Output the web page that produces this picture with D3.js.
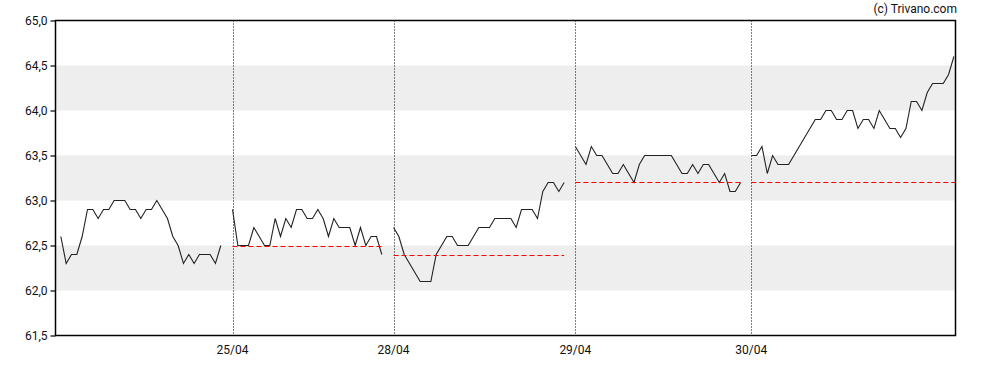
<!DOCTYPE html>
<html>
<head>
<meta charset="utf-8">
<script src="https://cdn.jsdelivr.net/npm/d3@7"></script>
<style>
  body { margin: 0; background: #fff; }
  svg text { font-family: Roboto, "Liberation Sans", sans-serif; font-size: 12px; fill: #111; }
</style>
</head>
<body>
<svg width="988" height="370"></svg>
<script>
// intraday prices, one array per trading day
var day1 = [62.6, 62.3, 62.4, 62.4, 62.6, 62.9, 62.9, 62.8, 62.9, 62.9, 63.0, 63.0, 63.0, 62.9, 62.9, 62.8,
  62.9, 62.9, 63.0, 62.9, 62.8, 62.6, 62.5, 62.3, 62.4, 62.3, 62.4, 62.4, 62.4, 62.3, 62.5];
var day2 = [62.9, 62.5, 62.5, 62.5, 62.7, 62.6, 62.5, 62.5, 62.8, 62.6, 62.8, 62.7, 62.9, 62.9, 62.8, 62.8,
  62.9, 62.8, 62.6, 62.8, 62.7, 62.7, 62.7, 62.5, 62.7, 62.5, 62.6, 62.6, 62.4];
var day3 = [62.7, 62.6, 62.4, 62.3, 62.2, 62.1, 62.1, 62.1, 62.4, 62.5, 62.6, 62.6, 62.5, 62.5, 62.5, 62.6,
  62.7, 62.7, 62.7, 62.8, 62.8, 62.8, 62.8, 62.7, 62.9, 62.9, 62.9, 62.8, 63.1, 63.2, 63.2, 63.1, 63.2];
var day4 = [63.6, 63.5, 63.4, 63.6, 63.5, 63.5, 63.4, 63.3, 63.3, 63.4, 63.3, 63.2, 63.4, 63.5, 63.5, 63.5,
  63.5, 63.5, 63.5, 63.4, 63.3, 63.3, 63.4, 63.3, 63.4, 63.4, 63.3, 63.2, 63.3, 63.1, 63.1, 63.2];
var day5 = [63.5, 63.5, 63.6, 63.3, 63.5, 63.4, 63.4, 63.4, 63.5, 63.6, 63.7, 63.8, 63.9, 63.9, 64.0, 64.0,
  63.9, 63.9, 64.0, 64.0, 63.8, 63.9, 63.9, 63.8, 64.0, 63.9, 63.8, 63.8, 63.7, 63.8, 64.1, 64.1,
  64.0, 64.2, 64.3, 64.3, 64.3, 64.4, 64.6];

var days = [day1, day2, day3, day4, day5];
// slot where each day starts on the x axis
var dayStart = [0, 32.2, 62.4, 96.5, 129.5];
var dayLabels = ["", "25/04", "28/04", "29/04", "30/04"];
// previous close, drawn as red dashed reference
var prevClose = [null, 62.5, 62.4, 63.2, 63.2];
var yTicks = [61.5, 62.0, 62.5, 63.0, 63.5, 64.0, 64.5, 65.0];
var bands = [[62.0, 62.5], [63.0, 63.5], [64.0, 64.5]];

var svg = d3.select("svg");
var plotLeft = 55.5, plotRight = 955.5, plotTop = 20.5, plotBottom = 335.5;

var x = d3.scaleLinear().domain([-1, 167.8]).range([plotLeft, plotRight]);
var y = d3.scaleLinear().domain([61.5, 65.0]).range([plotBottom, plotTop]);

// grey bands
svg.append("g")
  .selectAll("rect")
  .data(bands)
  .enter()
  .append("rect")
  .attr("x", plotLeft)
  .attr("width", plotRight - plotLeft)
  .attr("y", function (d) { return y(d[1]); })
  .attr("height", function (d) { return y(d[0]) - y(d[1]); })
  .attr("fill", "#eeeeee");

// dotted day separators
svg.append("g")
  .selectAll("line")
  .data(dayStart.slice(1))
  .enter()
  .append("line")
  .attr("x1", function (d) { return Math.round(x(d)) + 0.5; })
  .attr("x2", function (d) { return Math.round(x(d)) + 0.5; })
  .attr("y1", plotTop)
  .attr("y2", plotBottom)
  .attr("stroke", "#000")
  .attr("stroke-dasharray", "1,2");

var line = d3.line()
  .x(function (d) { return x(d.i); })
  .y(function (d) { return y(d.v); });

days.forEach(function (vals, k) {
  var pts = vals.map(function (v, j) { return { i: dayStart[k] + j, v: v }; });
  svg.append("path")
    .datum(pts)
    .attr("d", line)
    .attr("fill", "none")
    .attr("stroke", "#222")
    .attr("stroke-width", 1.1);

  if (prevClose[k] !== null) {
    var xEnd = k === days.length - 1 ? plotRight : x(dayStart[k] + vals.length - 1);
    svg.append("line")
      .attr("x1", x(dayStart[k]))
      .attr("x2", xEnd)
      .attr("y1", Math.round(y(prevClose[k])) + 0.5)
      .attr("y2", Math.round(y(prevClose[k])) + 0.5)
      .attr("stroke", "#ff0000")
      .attr("stroke-dasharray", "5,3");
  }
});

// plot frame
svg.append("rect")
  .attr("x", plotLeft)
  .attr("y", plotTop)
  .attr("width", plotRight - plotLeft)
  .attr("height", plotBottom - plotTop)
  .attr("fill", "none")
  .attr("stroke", "#000")
  .attr("stroke-width", 1.5);

// y axis
var yAxis = d3.axisLeft(y)
  .tickValues(yTicks)
  .tickSize(5)
  .tickPadding(3)
  .tickFormat(function (d) { return d.toFixed(1).replace(".", ","); });
var gy = svg.append("g").attr("transform", "translate(" + plotLeft + ",0)").call(yAxis);
gy.select(".domain").remove();
gy.selectAll("line").attr("stroke", "#000").attr("stroke-width", 1.2);
gy.selectAll("text").style("font-size", "12px").attr("fill", "#111");

// x axis labels
svg.append("g")
  .selectAll("text")
  .data(dayStart.slice(1))
  .enter()
  .append("text")
  .attr("x", function (d) { return x(d); })
  .attr("y", 354)
  .attr("text-anchor", "middle")
  .text(function (d, i) { return dayLabels[i + 1]; });

svg.append("text")
  .attr("x", 957)
  .attr("y", 13)
  .attr("text-anchor", "end")
  .text("(c) Trivano.com");
</script>
</body>
</html>
